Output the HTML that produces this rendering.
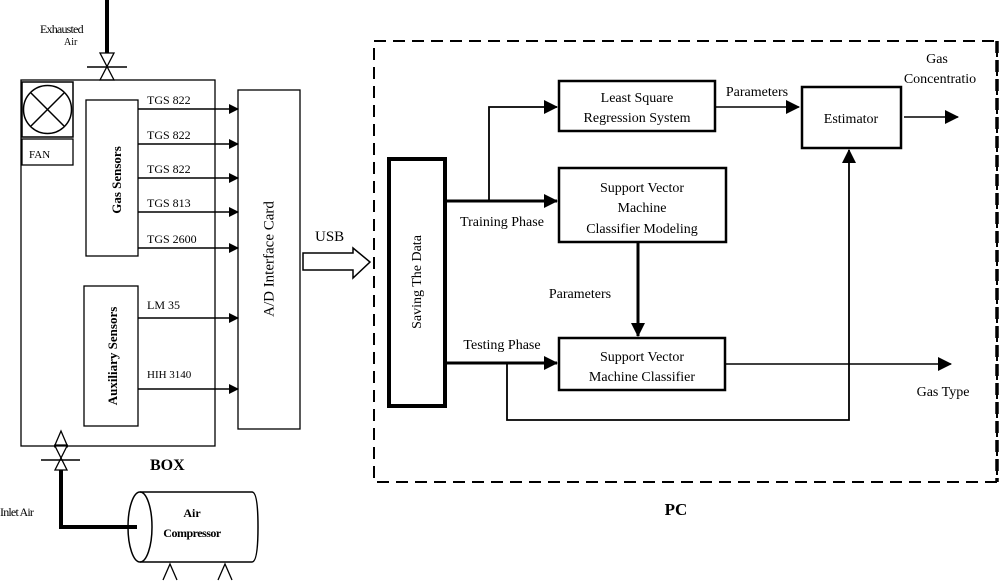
<!DOCTYPE html>
<html><head><meta charset="utf-8"><style>
body{margin:0;background:#fff}
svg{display:block}
text{font-family:"Liberation Serif",serif;fill:#000}
</style></head><body>
<svg width="1000" height="581" viewBox="0 0 1000 581" xmlns="http://www.w3.org/2000/svg">
<defs>
<marker id="a" markerWidth="10" markerHeight="10" refX="9" refY="5" orient="auto" markerUnits="userSpaceOnUse"><path d="M0,0 L10,5 L0,10 z" fill="#000"/></marker>
<marker id="b" markerWidth="14" markerHeight="14" refX="13" refY="7" orient="auto" markerUnits="userSpaceOnUse"><path d="M0,0 L14,7 L0,14 z" fill="#000"/></marker>
</defs>
<g fill="none" stroke="#000">
<!-- top pipe and valve -->
<line x1="107" y1="0" x2="107" y2="54" stroke-width="4"/>
<path d="M100,53 L114,53 L100,80 L114,80 z" fill="#fff" stroke-width="1.3"/>
<line x1="87" y1="67" x2="127" y2="67" stroke-width="1.5"/>
<!-- box -->
<rect x="21" y="80" width="194" height="366" stroke-width="1.3"/>
<rect x="22" y="82" width="51" height="55" stroke-width="1.5"/>
<circle cx="47.5" cy="109.5" r="24" stroke-width="1.5"/>
<line x1="31" y1="93" x2="64" y2="126" stroke-width="1.5"/>
<line x1="64" y1="93" x2="31" y2="126" stroke-width="1.5"/>
<rect x="22" y="139" width="51" height="26" stroke-width="1.3"/>
<rect x="86" y="100" width="52" height="156" stroke-width="1.3"/>
<rect x="84" y="286" width="54" height="140" stroke-width="1.3"/>
<rect x="238" y="90" width="62" height="339" stroke-width="1.3"/>
<g stroke-width="1.5" marker-end="url(#a)">
<line x1="138" y1="109" x2="238" y2="109"/>
<line x1="138" y1="144" x2="238" y2="144"/>
<line x1="138" y1="178" x2="238" y2="178"/>
<line x1="138" y1="212" x2="238" y2="212"/>
<line x1="138" y1="248" x2="238" y2="248"/>
<line x1="138" y1="318" x2="238" y2="318"/>
<line x1="138" y1="389" x2="238" y2="389"/>
</g>
<!-- bottom valve -->
<path d="M61,431 L55,445 L67,445 z" fill="#fff" stroke-width="1.3"/>
<line x1="54" y1="446" x2="68" y2="446" stroke-width="3"/>
<path d="M55,446 L67,446 L55,470 L67,470 z" fill="#fff" stroke-width="1.3"/>
<line x1="41" y1="460" x2="80" y2="460" stroke-width="1.5"/>
<line x1="61" y1="470" x2="61" y2="529" stroke-width="4"/>
<line x1="59" y1="527" x2="137" y2="527" stroke-width="4"/>
<!-- compressor -->
<path d="M140,492 L252,492 Q258,492 258,527 Q258,562 252,562 L140,562" stroke-width="1.5"/>
<ellipse cx="140" cy="527" rx="12" ry="35" stroke-width="1.5"/>
<path d="M163,580 L170,564 L177,580" stroke-width="1.3"/>
<path d="M218,580 L225,564 L232,580" stroke-width="1.3"/>
<!-- USB arrow -->
<path d="M303,253 L353,253 L353,248 L370,262 L353,278 L353,270 L303,270 z" stroke-width="1.5"/>
<!-- PC dashed box -->
<path d="M374,41 L997,41 L997,482 L374,482 z" stroke-width="2" stroke-dasharray="12,7"/>
<line x1="997" y1="41" x2="997" y2="482" stroke-width="3.5" stroke-dasharray="12,7"/>
<!-- saving -->
<rect x="389" y="159" width="56" height="247" stroke-width="4"/>
<!-- training -->
<line x1="447" y1="201" x2="557" y2="201" stroke-width="3" marker-end="url(#b)"/>
<polyline points="489,201 489,107 557,107" stroke-width="1.8" marker-end="url(#b)"/>
<rect x="559" y="81" width="156" height="50" stroke-width="2.5"/>
<rect x="559" y="168" width="167" height="74" stroke-width="2.5"/>
<line x1="638" y1="242" x2="638" y2="336" stroke-width="3" marker-end="url(#b)"/>
<rect x="559" y="338" width="166" height="52" stroke-width="2.5"/>
<line x1="447" y1="363" x2="557" y2="363" stroke-width="3" marker-end="url(#b)"/>
<line x1="725" y1="364" x2="951" y2="364" stroke-width="1.5" marker-end="url(#b)"/>
<polyline points="507,363 507,420 849,420 849,150" stroke-width="1.8" marker-end="url(#b)"/>
<rect x="802" y="87" width="99" height="61" stroke-width="2.5"/>
<line x1="715" y1="107" x2="799" y2="107" stroke-width="1.5" marker-end="url(#b)"/>
<line x1="904" y1="117" x2="958" y2="117" stroke-width="1.5" marker-end="url(#b)"/>
</g>
<!-- text -->
<g font-size="12">
<text x="40" y="33" letter-spacing="-0.8">Exhausted</text>
<text x="64" y="45" font-size="10">Air</text>
<text x="29" y="158" font-size="11">FAN</text>
<text x="147" y="104">TGS 822</text>
<text x="147" y="139">TGS 822</text>
<text x="147" y="173">TGS 822</text>
<text x="147" y="207">TGS 813</text>
<text x="147" y="243">TGS 2600</text>
<text x="147" y="309">LM 35</text>
<text x="147" y="378" font-size="11">HIH 3140</text>
<text x="0" y="516" letter-spacing="-0.8">Inlet Air</text>
<text x="192" y="517" font-weight="bold" text-anchor="middle">Air</text>
<text x="192" y="537" font-weight="bold" text-anchor="middle" letter-spacing="-0.5">Compressor</text>
</g>
<text x="118" y="180" font-size="13" font-weight="bold" transform="rotate(-90 118 180)" text-anchor="middle" dominant-baseline="middle">Gas Sensors</text>
<text x="114" y="356" font-size="13" font-weight="bold" transform="rotate(-90 114 356)" text-anchor="middle" dominant-baseline="middle">Auxiliary Sensors</text>
<text x="270" y="259" font-size="15" transform="rotate(-90 270 259)" text-anchor="middle" dominant-baseline="middle">A/D Interface Card</text>
<text x="150" y="470" font-size="16" font-weight="bold">BOX</text>
<text x="315" y="241" font-size="15">USB</text>
<text x="418" y="282" font-size="14" transform="rotate(-90 418 282)" text-anchor="middle" dominant-baseline="middle">Saving The Data</text>
<g font-size="14" text-anchor="middle">
<text x="637" y="102">Least Square</text>
<text x="637" y="122">Regression System</text>
<text x="642" y="192">Support Vector</text>
<text x="642" y="212">Machine</text>
<text x="642" y="233">Classifier Modeling</text>
<text x="642" y="361">Support Vector</text>
<text x="642" y="381">Machine Classifier</text>
<text x="851" y="123">Estimator</text>
<text x="757" y="96">Parameters</text>
<text x="580" y="298">Parameters</text>
<text x="502" y="226">Training Phase</text>
<text x="502" y="349">Testing Phase</text>
<text x="937" y="63">Gas</text>
<text x="940" y="83">Concentratio</text>
<text x="943" y="396">Gas Type</text>
</g>
<text x="676" y="515" font-size="17" font-weight="bold" text-anchor="middle">PC</text>
</svg>
</body></html>
